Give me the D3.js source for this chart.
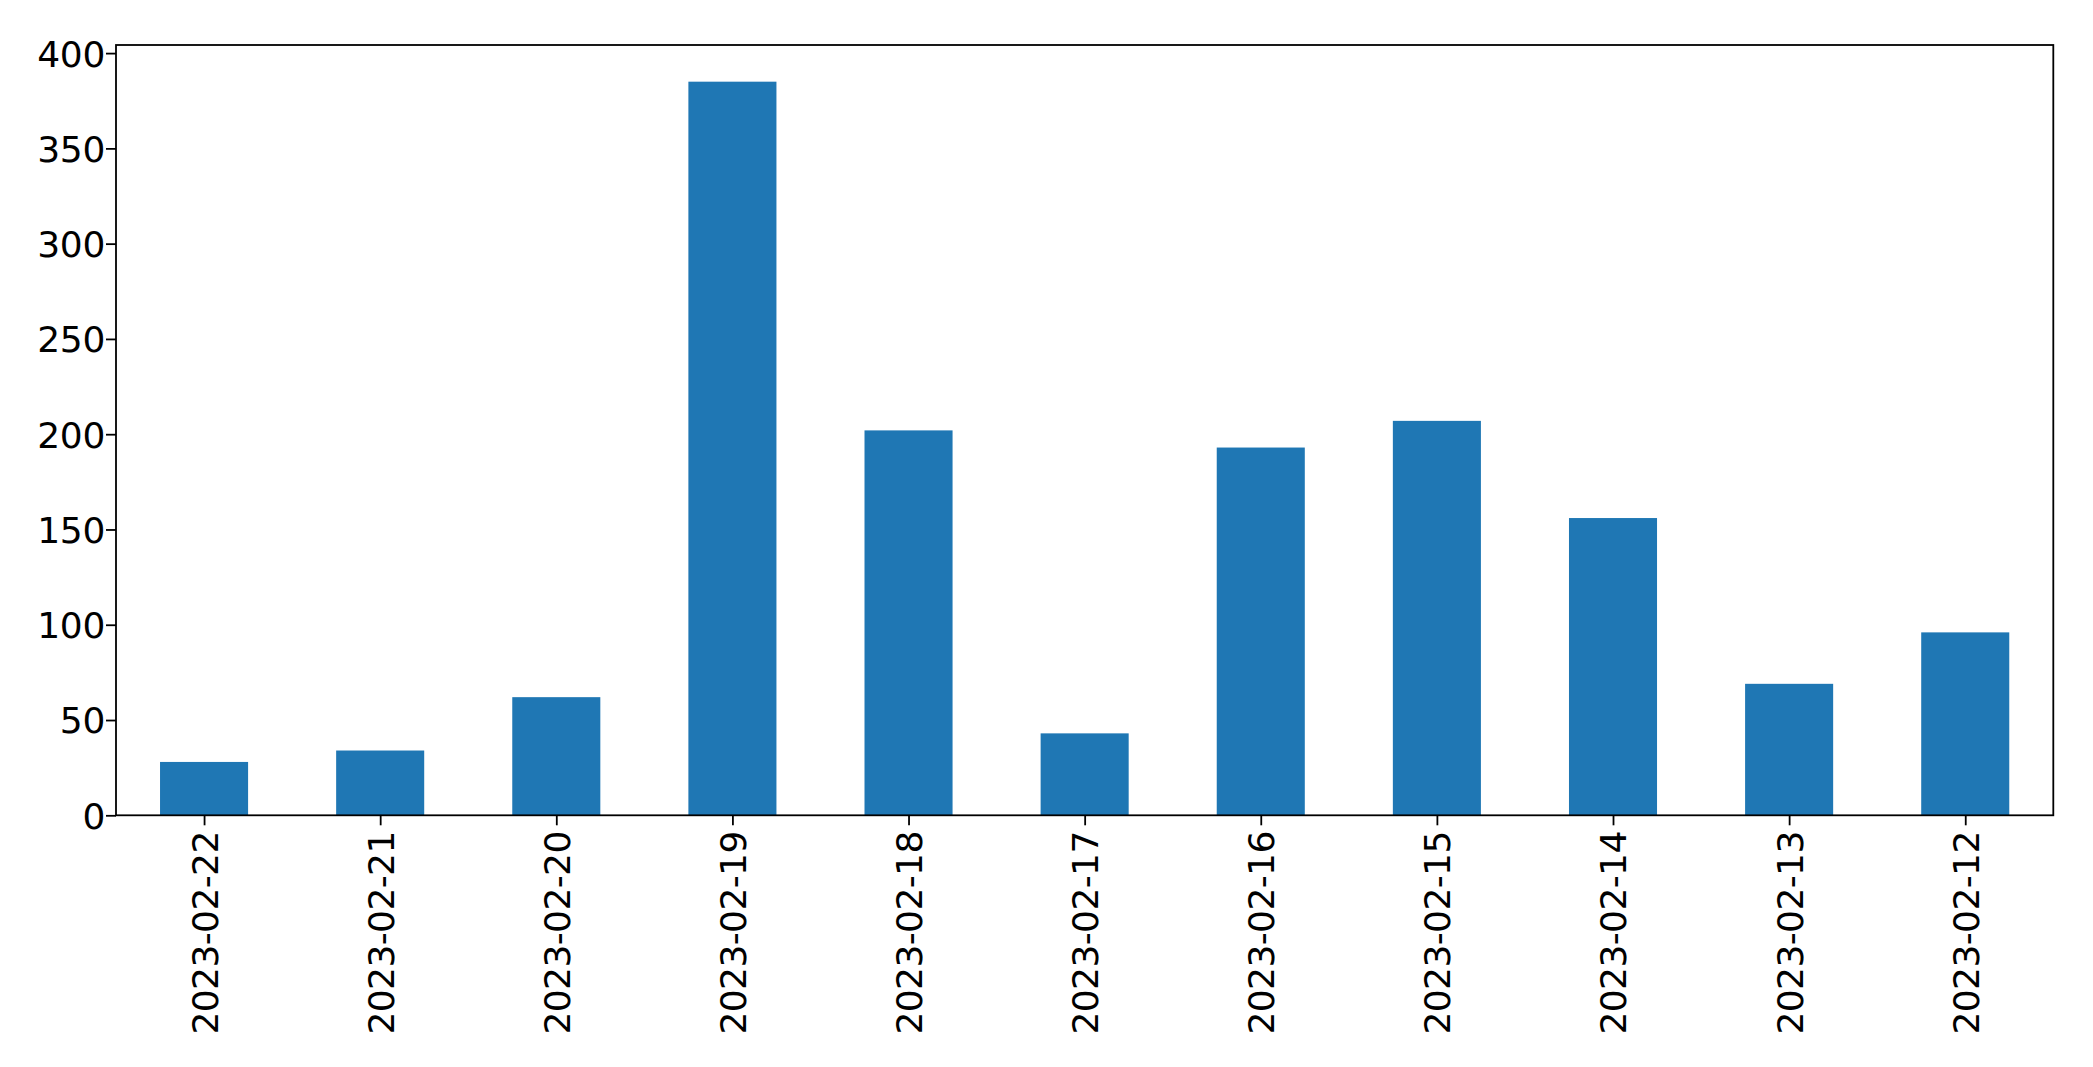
<!DOCTYPE html>
<html>
<head>
<meta charset="utf-8">
<script src="https://cdn.jsdelivr.net/npm/d3@7"></script>
<style>
  html, body { margin: 0; padding: 0; background: #fff; }
  svg { display: block; }
  text { font-family: "DejaVu Sans", sans-serif; fill: #000; }
</style>
</head>
<body>
<script>
const categories = ["2023-02-22","2023-02-21","2023-02-20","2023-02-19","2023-02-18","2023-02-17","2023-02-16","2023-02-15","2023-02-14","2023-02-13","2023-02-12"];
const values = [28, 34, 62, 385, 202, 43, 193, 207, 156, 69, 96];
const yTicks = [0, 50, 100, 150, 200, 250, 300, 350, 400];

const W = 2093, H = 1067;
const mLeft = 116, mTop = 45, mRight = 2053.3, mBottom = 815.3;

const svg = d3.select("body").append("svg").attr("width", W).attr("height", H);

// pandas-style positions: index i, bar width 0.5, xlim [-0.5, n-0.5]
const x = d3.scaleLinear().domain([-0.5, categories.length - 0.5]).range([mLeft, mRight]);
const y = d3.scaleLinear().domain([0, d3.max(values) * 1.05]).range([mBottom, mTop]);

svg.append("g").selectAll("rect").data(values).join("rect")
  .attr("x", (d, i) => x(i - 0.25))
  .attr("width", (d, i) => x(i + 0.25) - x(i - 0.25))
  .attr("y", d => y(d))
  .attr("height", d => y(0) - y(d))
  .attr("fill", "#1f77b4");

// Y axis
const yAxis = d3.axisLeft(y).tickValues(yTicks).tickSize(10).tickPadding(1).tickFormat(d3.format("d"));
const gy = svg.append("g").attr("transform", `translate(${mLeft},0)`).call(yAxis);
gy.select(".domain").remove();
gy.selectAll("line").attr("stroke", "#000").attr("stroke-width", 1.8);
gy.selectAll("text").style("font-size", "36px").style("letter-spacing", "-0.3px").attr("dy", "0.36em");

// X axis
const xAxis = d3.axisBottom(x).tickValues(d3.range(categories.length)).tickSize(10).tickFormat(i => categories[i]);
const gx = svg.append("g").attr("transform", `translate(0,${mBottom})`).call(xAxis);
gx.select(".domain").remove();
gx.selectAll("line").attr("stroke", "#000").attr("stroke-width", 1.8);
gx.selectAll("text")
  .style("font-size", "36px")
  .style("letter-spacing", "-0.6px")
  .attr("text-anchor", "end")
  .attr("transform", "rotate(-90)")
  .attr("x", -16)
  .attr("y", 0)
  .attr("dy", "0.36em");

// Frame
svg.append("rect")
  .attr("x", mLeft).attr("y", mTop)
  .attr("width", mRight - mLeft).attr("height", mBottom - mTop)
  .attr("fill", "none").attr("stroke", "#000").attr("stroke-width", 1.8);
</script>
</body>
</html>
